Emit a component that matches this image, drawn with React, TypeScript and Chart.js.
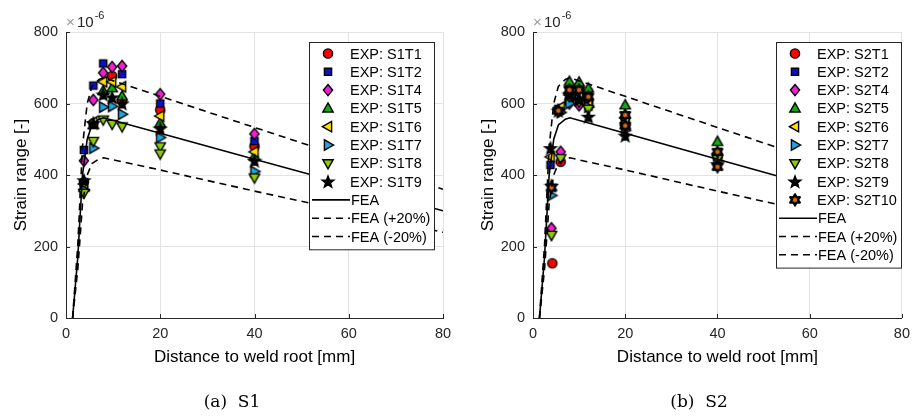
import React, { useEffect, useRef } from 'react';
import { Chart, registerables } from 'chart.js';

Chart.register(...registerables);

const FONT = '"Liberation Sans", Arial, sans-serif';

// ---------- FEA curves (shared by both panels) ----------
const feaX = [1.4, 2.5, 3.5, 4.5, 5.5, 7, 8, 20, 40, 80];
const feaY = [0, 170, 400, 500, 540, 556, 560, 517, 444, 300];
const feaPlusY = [0, 204, 480, 600, 648, 667, 672, 620, 533, 360];
const feaMinusY = [0, 136, 320, 400, 432, 445, 448, 414, 355, 240];

// ---------- Panel (a) S1 ----------
const s1t1X = [3.8, 5.8, 9.8, 11.9, 20, 40];
const s1t1Y = [380, 545, 677, 608, 582, 480];
const s1t2X = [3.8, 5.8, 7.9, 11.9, 20, 40];
const s1t2Y = [470, 650, 712, 682, 600, 495];
const s1t4X = [3.8, 5.8, 7.9, 9.8, 11.9, 20, 40];
const s1t4Y = [440, 610, 686, 702, 705, 626, 515];
const s1t5X = [3.8, 5.8, 7.9, 9.8, 11.9, 20, 40];
const s1t5Y = [365, 540, 635, 643, 620, 545, 452];
const s1t6X = [3.8, 5.8, 7.9, 9.8, 11.9, 20, 40];
const s1t6Y = [375, 548, 661, 661, 647, 565, 465];
const s1t7X = [3.8, 5.8, 7.9, 9.8, 11.9, 20, 40];
const s1t7Y = [358, 475, 590, 592, 570, 505, 410];
const s1t8X = [3.8, 5.8, 7.9, 9.8, 11.9, 20, 20, 40];
const s1t8Y = [350, 495, 555, 543, 536, 480, 460, 393];
const s1t9X = [3.8, 5.8, 7.9, 9.8, 11.9, 20, 40];
const s1t9Y = [385, 545, 625, 617, 600, 530, 440];

// ---------- Panel (b) S2 ----------
const s2t1X = [4.2, 6, 7.9, 10, 12, 20, 40];
const s2t1Y = [153, 437, 610, 620, 605, 560, 455];
const s2t2X = [3.8, 5.5, 7.9, 10, 12, 20, 40];
const s2t2Y = [428, 585, 640, 645, 630, 550, 450];
const s2t4X = [4, 6, 7.9, 10, 12, 20, 40];
const s2t4Y = [251, 465, 600, 595, 612, 545, 448];
const s2t5X = [7.9, 10, 12, 20, 40];
const s2t5Y = [661, 659, 642, 595, 493];
const s2t6X = [3.8, 6, 7.9, 10, 12, 20, 40];
const s2t6Y = [451, 590, 624, 630, 596, 560, 460];
const s2t7X = [4, 6, 7.9, 10, 12, 20, 40];
const s2t7Y = [343, 575, 600, 610, 590, 525, 440];
const s2t8X = [4, 6, 7.9, 10, 12, 20, 40];
const s2t8Y = [232, 447, 620, 605, 585, 530, 445];
const s2t9X = [3.8, 4, 5.5, 7.9, 10, 12, 20, 40];
const s2t9Y = [475, 370, 580, 625, 612, 563, 510, 430];
const s2t10X = [4, 5.5, 7.9, 10, 12, 20, 20, 40, 40];
const s2t10Y = [365, 580, 638, 638, 619, 568, 538, 465, 423];

// ---------- Axis ticks ----------
const xTickValues = [0, 20, 40, 60, 80];
const yTickValues = [0, 200, 400, 600, 800];

type Series = { label: string; x: number[]; y: number[]; shape: string; color: string };

const COL = {
  red: '#ff0000',
  blue: '#0a10c8',
  magenta: '#f21ed2',
  green: '#14a814',
  yellow: '#ffe000',
  cyan: '#1ea6e2',
  lime: '#8ccc00',
  black: '#000000',
  orange: '#d2691e',
};

const s1Series: Series[] = [
  { label: 'EXP: S1T1', x: s1t1X, y: s1t1Y, shape: 'circle', color: COL.red },
  { label: 'EXP: S1T2', x: s1t2X, y: s1t2Y, shape: 'square', color: COL.blue },
  { label: 'EXP: S1T4', x: s1t4X, y: s1t4Y, shape: 'diamond', color: COL.magenta },
  { label: 'EXP: S1T5', x: s1t5X, y: s1t5Y, shape: 'up', color: COL.green },
  { label: 'EXP: S1T6', x: s1t6X, y: s1t6Y, shape: 'left', color: COL.yellow },
  { label: 'EXP: S1T7', x: s1t7X, y: s1t7Y, shape: 'right', color: COL.cyan },
  { label: 'EXP: S1T8', x: s1t8X, y: s1t8Y, shape: 'down', color: COL.lime },
  { label: 'EXP: S1T9', x: s1t9X, y: s1t9Y, shape: 'star', color: COL.black },
];

const s2Series: Series[] = [
  { label: 'EXP: S2T1', x: s2t1X, y: s2t1Y, shape: 'circle', color: COL.red },
  { label: 'EXP: S2T2', x: s2t2X, y: s2t2Y, shape: 'square', color: COL.blue },
  { label: 'EXP: S2T4', x: s2t4X, y: s2t4Y, shape: 'diamond', color: COL.magenta },
  { label: 'EXP: S2T5', x: s2t5X, y: s2t5Y, shape: 'up', color: COL.green },
  { label: 'EXP: S2T6', x: s2t6X, y: s2t6Y, shape: 'left', color: COL.yellow },
  { label: 'EXP: S2T7', x: s2t7X, y: s2t7Y, shape: 'right', color: COL.cyan },
  { label: 'EXP: S2T8', x: s2t8X, y: s2t8Y, shape: 'down', color: COL.lime },
  { label: 'EXP: S2T9', x: s2t9X, y: s2t9Y, shape: 'star', color: COL.black },
  { label: 'EXP: S2T10', x: s2t10X, y: s2t10Y, shape: 'hexagram', color: COL.orange },
];

function polyPath(ctx: CanvasRenderingContext2D, x: number, y: number, pts: number[][]) {
  pts.forEach((p, i) => (i === 0 ? ctx.moveTo(x + p[0], y + p[1]) : ctx.lineTo(x + p[0], y + p[1])));
  ctx.closePath();
}

function starPts(n: number, ro: number, ri: number): number[][] {
  const pts: number[][] = [];
  for (let i = 0; i < n * 2; i++) {
    const r = i % 2 === 0 ? ro : ri;
    const a = -Math.PI / 2 + (i * Math.PI) / n;
    pts.push([r * Math.cos(a), r * Math.sin(a)]);
  }
  return pts;
}

function drawMarker(ctx: CanvasRenderingContext2D, shape: string, x: number, y: number, fill: string) {
  ctx.save();
  ctx.fillStyle = fill;
  ctx.strokeStyle = '#000';
  ctx.lineWidth = 1.4;
  ctx.lineJoin = 'miter';
  ctx.beginPath();
  switch (shape) {
    case 'circle':
      ctx.arc(x, y, 4.6, 0, Math.PI * 2);
      break;
    case 'square':
      ctx.rect(x - 3.6, y - 3.6, 7.2, 7.2);
      break;
    case 'diamond':
      polyPath(ctx, x, y, [[0, -5.6], [4.6, 0], [0, 5.6], [-4.6, 0]]);
      break;
    case 'up':
      polyPath(ctx, x, y, [[0, -5.6], [5.2, 3.6], [-5.2, 3.6]]);
      break;
    case 'down':
      polyPath(ctx, x, y, [[0, 5.6], [5.2, -3.6], [-5.2, -3.6]]);
      break;
    case 'left':
      polyPath(ctx, x, y, [[-5.6, 0], [3.6, -5.2], [3.6, 5.2]]);
      break;
    case 'right':
      polyPath(ctx, x, y, [[5.6, 0], [-3.6, -5.2], [-3.6, 5.2]]);
      break;
    case 'star':
      polyPath(ctx, x, y + 0.5, starPts(5, 6.2, 2.6));
      break;
    case 'hexagram':
      ctx.lineWidth = 2.2;
      ctx.lineJoin = 'round';
      polyPath(ctx, x, y, starPts(6, 5.6, 3.0));
      break;
  }
  ctx.fill();
  ctx.stroke();
  ctx.restore();
}

function makeMarker(shape: string, fill: string): HTMLCanvasElement {
  const c = document.createElement('canvas');
  c.width = 16;
  c.height = 16;
  const ctx = c.getContext('2d')!;
  drawMarker(ctx, shape, 8, 8, fill);
  return c;
}

function Panel(props: { series: Series[]; caption: string; left: number; width: number }) {
  const ref = useRef<HTMLCanvasElement | null>(null);
  useEffect(() => {
    const canvas = ref.current!;
    const series = props.series;
    const pts = (xs: number[], ys: number[]) => xs.map((x, i) => ({ x, y: ys[i] }));
    const datasets: any[] = series.map((s, i) => ({
      label: s.label,
      data: pts(s.x, s.y),
      pointStyle: makeMarker(s.shape, s.color),
      pointRadius: 5,
      pointHoverRadius: 5,
      showLine: false,
      order: -i,
    }));
    datasets.push(
      { label: 'FEA', data: pts(feaX, feaY), showLine: true, pointRadius: 0, borderColor: '#000', borderWidth: 1.6, order: -100, fill: false, tension: 0 },
      { label: 'FEA (+20%)', data: pts(feaX, feaPlusY), showLine: true, pointRadius: 0, borderColor: '#000', borderWidth: 1.6, borderDash: [7, 5], order: -101, fill: false, tension: 0 },
      { label: 'FEA (-20%)', data: pts(feaX, feaMinusY), showLine: true, pointRadius: 0, borderColor: '#000', borderWidth: 1.6, borderDash: [7, 5], order: -102, fill: false, tension: 0 },
    );

    const overlay = {
      id: 'overlay',
      afterDraw(chart: any) {
        const ctx: CanvasRenderingContext2D = chart.ctx;
        const xs = chart.scales.x;
        const ys = chart.scales.y;
        const area = chart.chartArea;
        ctx.save();
        // inward ticks
        ctx.strokeStyle = '#262626';
        ctx.lineWidth = 1;
        xTickValues.forEach((v) => {
          const px = Math.round(xs.getPixelForValue(v)) + 0.5;
          ctx.beginPath();
          ctx.moveTo(px, area.bottom);
          ctx.lineTo(px, area.bottom - 4);
          ctx.stroke();
        });
        yTickValues.forEach((v) => {
          const py = Math.round(ys.getPixelForValue(v)) + 0.5;
          ctx.beginPath();
          ctx.moveTo(area.left, py);
          ctx.lineTo(area.left + 4, py);
          ctx.stroke();
        });
        // exponent label
        ctx.textBaseline = 'alphabetic';
        ctx.textAlign = 'left';
        ctx.fillStyle = '#9a9a9a';
        ctx.font = `15px ${FONT}`;
        ctx.fillText('\u00d7', area.left, 27);
        ctx.fillStyle = '#262626';
        ctx.font = `15px ${FONT}`;
        ctx.fillText('10', area.left + 11, 27);
        const w10 = ctx.measureText('10').width;
        ctx.font = `11px ${FONT}`;
        ctx.fillText('-6', area.left + 11 + w10 + 1, 19);

        // legend
        const items: { label: string; kind: string; shape?: string; color?: string }[] = series.map((s) => ({
          label: s.label, kind: 'marker', shape: s.shape, color: s.color,
        }));
        items.push({ label: 'FEA', kind: 'solid' }, { label: 'FEA (+20%)', kind: 'dash' }, { label: 'FEA (-20%)', kind: 'dash' });
        const lx = 309, ly = 42, lw = 125, rowH = 18.3;
        const lh = items.length * rowH + 6;
        ctx.fillStyle = '#ffffff';
        ctx.fillRect(lx, ly, lw, lh);
        ctx.strokeStyle = '#262626';
        ctx.lineWidth = 1;
        ctx.strokeRect(lx + 0.5, ly + 0.5, lw, lh);
        ctx.font = `14.5px ${FONT}`;
        ctx.textBaseline = 'middle';
        items.forEach((it, i) => {
          const cy = ly + 11.5 + i * rowH;
          if (it.kind === 'marker') {
            drawMarker(ctx, it.shape!, 328, cy, it.color!);
          } else {
            ctx.save();
            ctx.strokeStyle = '#000';
            ctx.lineWidth = 1.6;
            if (it.kind === 'dash') ctx.setLineDash([7, 5]);
            ctx.beginPath();
            ctx.moveTo(312, cy);
            ctx.lineTo(350, cy);
            ctx.stroke();
            ctx.restore();
          }
          ctx.fillStyle = '#000';
          ctx.textAlign = 'left';
          ctx.fillText(it.label, it.kind === 'marker' ? 350 : 351, cy + 1);
        });

        // caption
        ctx.fillStyle = '#000';
        ctx.textAlign = 'center';
        ctx.textBaseline = 'middle';
        ctx.font = `17px "DejaVu Serif", serif`;
        ctx.fillText(props.caption, 232, 403);
        ctx.restore();
      },
    };

    const chart = new Chart(canvas, {
      type: 'scatter',
      data: { datasets },
      options: {
        responsive: false,
        animation: false,
        devicePixelRatio: 1,
        layout: { padding: { left: 7, right: props.width - 443, top: 32, bottom: 44 } },
        plugins: { legend: { display: false }, tooltip: { enabled: false } },
        scales: {
          x: {
            type: 'linear',
            min: 0,
            max: 80,
            afterBuildTicks: (s: any) => { s.ticks = xTickValues.map((v) => ({ value: v })); },
            ticks: { color: '#262626', font: { family: FONT, size: 14.5 }, padding: 7, maxRotation: 0, autoSkip: false },
            grid: { color: '#e3e3e3', drawTicks: false },
            border: { color: '#262626', width: 1 },
            title: { display: true, text: 'Distance to weld root [mm]', color: '#000', font: { family: FONT, size: 17 }, padding: { top: 4, bottom: 4 } },
            afterFit: (s: any) => { s.height = 54; },
          },
          y: {
            type: 'linear',
            min: 0,
            max: 800,
            afterBuildTicks: (s: any) => { s.ticks = yTickValues.map((v) => ({ value: v })); },
            ticks: { color: '#262626', font: { family: FONT, size: 14.5 }, padding: 8, autoSkip: false },
            grid: { color: '#e3e3e3', drawTicks: false },
            border: { color: '#262626', width: 1 },
            title: { display: true, text: 'Strain range [-]', color: '#000', font: { family: FONT, size: 17 }, padding: { top: 4, bottom: 4 } },
            afterFit: (s: any) => { s.width = 59; },
          },
        },
      } as any,
      plugins: [overlay],
    });
    return () => chart.destroy();
  }, []);
  return (
    <canvas
      ref={ref}
      width={props.width}
      height={416}
      style={{ position: 'absolute', left: props.left, top: 0, width: props.width, height: 416 }}
    />
  );
}

export default function App() {
  return (
    <div style={{ position: 'absolute', left: 0, top: 0, width: 917, height: 416, background: '#fff', overflow: 'hidden' }}>
      <Panel series={s1Series} caption="(a)  S1" left={0} width={460} />
      <Panel series={s2Series} caption="(b)  S2" left={467} width={450} />
    </div>
  );
}
